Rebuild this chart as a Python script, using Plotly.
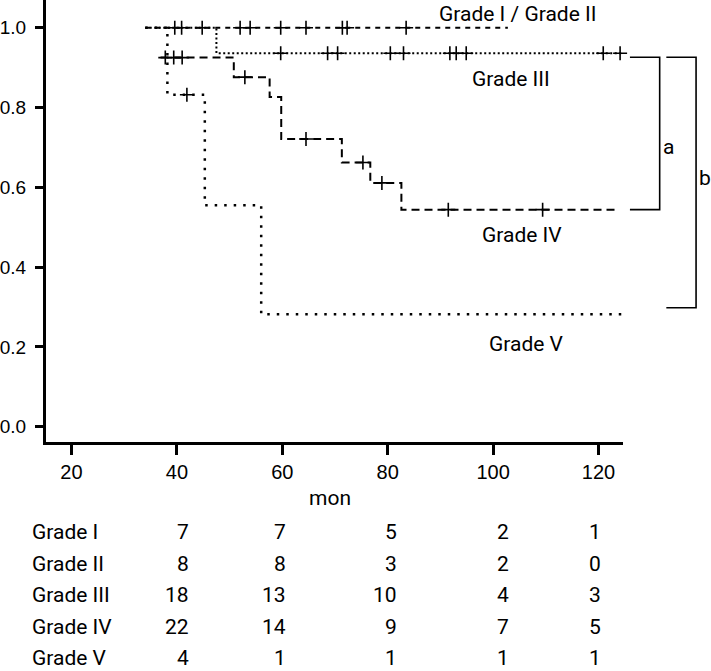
import numpy as np
import plotly.graph_objects as go

# ---------------- data ----------------
# Kaplan-Meier step curves (time in months, cumulative survival)
g12_t = [34.0, 102.8]
g12_s = [1.0, 1.0]
g12_censor = [39.6, 40.9, 44.8, 52.0, 53.9, 59.7, 64.5, 71.4, 72.3, 83.5]

g3_t = [34.0, 47.5, 124.3]
g3_s = [1.0, 0.936, 0.936]
g3_censor = [59.7, 68.6, 70.5, 80.5, 83.0, 91.8, 93.0, 94.9, 120.9, 124.1]

g4_t = [36.9, 50.8, 57.6, 59.8, 71.3, 76.7, 82.6, 123.8]
g4_s = [0.925, 0.876, 0.826, 0.721, 0.662, 0.611, 0.544, 0.544]
g4_censor = [37.8, 39.4, 41.0, 52.9, 64.5, 75.3, 78.9, 91.5, 109.4]

g5_t = [34.0, 38.2, 45.3, 56.0, 124.6]
g5_s = [1.0, 0.832, 0.555, 0.282, 0.282]
g5_censor = [41.9]

curve_labels = ["Grade I / Grade II", "Grade III", "Grade IV", "Grade V"]

# numbers at risk
risk_times = [40, 60, 80, 100, 120]
risk_rows = ["Grade I", "Grade II", "Grade III", "Grade IV", "Grade V"]
risk_g1 = [7, 7, 5, 2, 1]
risk_g2 = [8, 8, 3, 2, 0]
risk_g3 = [18, 13, 10, 4, 3]
risk_g4 = [22, 14, 9, 7, 5]
risk_g5 = [4, 1, 1, 1, 1]

x_ticks = [20, 40, 60, 80, 100, 120]
y_ticks = [0.0, 0.2, 0.4, 0.6, 0.8, 1.0]
x_title = "mon"

# ---------------- layout geometry ----------------
FW, FH = 711, 671
ML, MR, MT, MB = 41, 88, 0, 229
PW, PH = FW - ML - MR, FH - MT - MB
X0, X1 = 15.166, 124.65
Y0, Y1 = -0.0383, 1.0694


def px2x(p):
    return X0 + (p - ML) / PW * (X1 - X0)


def py2y(p):
    return Y1 - (p - MT) / PH * (Y1 - Y0)


def px2paper(p):
    return (p - ML) / PW


def py2paper(p):
    return 1 - (p - MT) / PH


def y2paper(v):
    return (v - Y0) / (Y1 - Y0)


def step_at(ts, ss, t):
    i = np.searchsorted(np.array(ts), t, side="right") - 1
    return ss[max(i, 0)]


LABEL_FONT = dict(family="Roboto", size=21, color="black")
TICK_FONT = "Liberation Sans"

fig = go.Figure()

curves = [
    (g12_t, g12_s, g12_censor, dict(dash="5px,5px", width=2)),
    (g3_t, g3_s, g3_censor, dict(dash="2px,2.5px", width=2)),
    (g4_t, g4_s, g4_censor, dict(dash="8px,5px", width=2)),
    (g5_t, g5_s, g5_censor, dict(dash="2.5px,7px", width=2.5)),
]

for ts, ss, cens, lstyle in curves:
    fig.add_trace(go.Scatter(
        x=ts, y=ss, mode="lines", line=dict(color="black", shape="hv", **lstyle),
        showlegend=False, hoverinfo="skip"))
    fig.add_trace(go.Scatter(
        x=cens, y=[step_at(ts, ss, c) for c in cens], mode="markers",
        marker=dict(symbol="cross-thin", size=10, line=dict(color="black", width=1.6)),
        showlegend=False, hoverinfo="skip", cliponaxis=False))

annotations = []
# curve labels (pixel centres)
label_px = [(516.7, 13.5), (510.0, 79.3), (520.8, 235.2), (525.8, 344.0)]
for txt, (px, py) in zip(curve_labels, label_px):
    annotations.append(dict(x=px2x(px), y=py2y(py), xref="x", yref="y", text=txt,
                            showarrow=False, font=LABEL_FONT,
                            xanchor="center", yanchor="middle"))

# brackets (significance)
br_top = 0.926
a_bottom = 0.544
b_bottom = 0.298
shapes = []
for x_in, x_out, ybot in [(630, 660, a_bottom), (666.7, 696.7, b_bottom)]:
    pts = [(x_in, br_top), (x_out, br_top), (x_out, ybot), (x_in, ybot)]
    path = "M " + " L ".join(f"{px2paper(px):.5f},{y2paper(v):.5f}" for px, v in pts)
    shapes.append(dict(type="path", path=path, xref="paper", yref="paper",
                       line=dict(color="black", width=1.6)))
for txt, px, py in [("a", 669.3, 146.7), ("b", 705.5, 177.5)]:
    annotations.append(dict(x=px2paper(px), y=py2paper(py), xref="paper", yref="paper",
                            text=txt, showarrow=False, font=LABEL_FONT,
                            xanchor="center", yanchor="middle"))

# x axis title
annotations.append(dict(x=px2paper(327.5), y=py2paper(498), xref="paper", yref="paper",
                        text=x_title, showarrow=False, font=LABEL_FONT,
                        xanchor="center", yanchor="middle"))

# numbers-at-risk table
row_y_px = [532, 563.5, 595, 626.5, 658]
col_shift = [14, 5.7, 11.4, 18.1, 4.8]
for name, vals, ry in zip(risk_rows, [risk_g1, risk_g2, risk_g3, risk_g4, risk_g5], row_y_px):
    annotations.append(dict(x=px2paper(25.0), y=py2paper(ry), xref="paper", yref="paper",
                            text=name, showarrow=False, font=LABEL_FONT,
                            xanchor="left", yanchor="middle"))
    for t, v, sh in zip(risk_times, vals, col_shift):
        annotations.append(dict(x=t, y=py2paper(ry), xref="x", yref="paper",
                                text=str(v), showarrow=False, font=LABEL_FONT,
                                xanchor="right", yanchor="middle", xshift=sh))

fig.update_layout(
    width=FW, height=FH,
    margin=dict(l=ML, r=MR, t=MT, b=MB, pad=0),
    paper_bgcolor="white", plot_bgcolor="white",
    annotations=annotations, shapes=shapes,
    showlegend=False,
)
fig.update_xaxes(range=[X0, X1], tickvals=x_ticks, ticks="outside", ticklen=10, tickwidth=3,
                 tickcolor="black", showline=True, linewidth=3, linecolor="black",
                 showgrid=False, zeroline=False,
                 tickfont=dict(family=TICK_FONT, size=20, color="black"))
fig.update_yaxes(range=[Y0, Y1], tickvals=y_ticks, tickformat=".1f", ticks="outside",
                 ticklen=8, tickwidth=3, tickcolor="black", showline=True, linewidth=3,
                 linecolor="black", showgrid=False, zeroline=False, ticklabelstandoff=5,
                 tickfont=dict(family=TICK_FONT, size=19, color="black"))

fig.write_html(
    "out.html",
    config={"displayModeBar": False},
    post_script="document.body.style.margin='0';document.documentElement.style.overflow='hidden';",
)
